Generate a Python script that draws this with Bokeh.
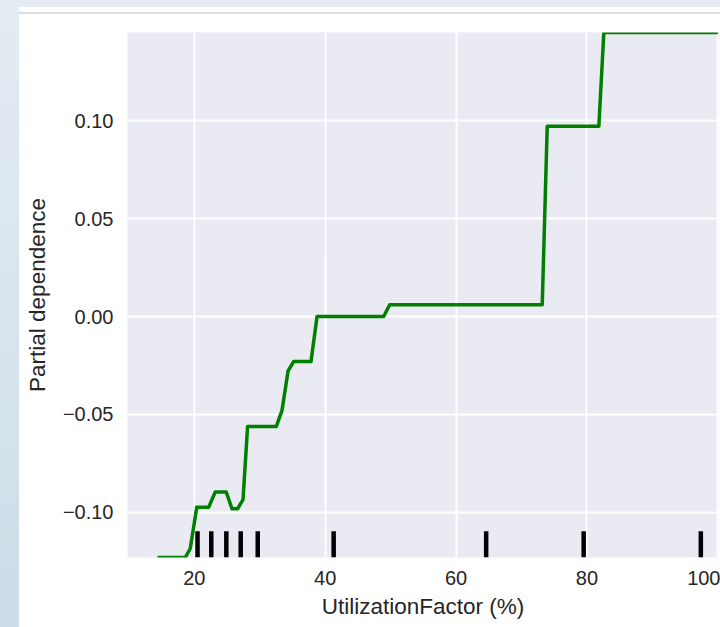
from bokeh.plotting import figure
from bokeh.models import Range1d, FixedTicker, Div
from bokeh.layouts import row, column
from bokeh.embed import file_html
from bokeh.resources import INLINE

# ---- data ----
util_factor = [14.39, 18.62, 19.39, 20.38, 22.19, 23.21, 24.89, 25.76, 26.62,
               27.45, 28.15, 32.54, 33.41, 34.33, 35.18, 37.84, 38.76, 48.94,
               49.86, 73.17, 73.93, 81.82, 82.58, 100.0]
partial_dep = [-0.1230, -0.1230, -0.1184, -0.0974, -0.0974, -0.0896, -0.0896,
               -0.0981, -0.0981, -0.0935, -0.0561, -0.0561, -0.0479, -0.0278,
               -0.0230, -0.0230, 0.0000, 0.0000, 0.0060, 0.0060, 0.0972,
               0.0972, 0.1450, 0.1450]
deciles = [20.5, 22.6, 24.9, 27.1, 29.7, 41.3, 64.6, 79.5, 97.4]
x_ticks = [20, 40, 60, 80, 100]
x_tick_labels = ["20", "40", "60", "80", "100"]
y_ticks = [-0.10, -0.05, 0.00, 0.05, 0.10]
y_tick_labels = ["\u22120.10", "\u22120.05", "0.00", "0.05", "0.10"]
x_label = "UtilizationFactor (%)"
y_label = "Partial dependence"

FONT = "Liberation Sans"
TXT = "#262626"

y_min, y_max = min(partial_dep), max(partial_dep)

p = figure(width=701, height=613, output_backend="svg", toolbar_location=None,
           x_range=Range1d(9.8, 100.1), y_range=Range1d(y_min, y_max),
           min_border_left=108, min_border_right=2, min_border_top=18,
           min_border_bottom=70)
p.background_fill_color = "#EAEAF2"
p.border_fill_color = "white"
p.outline_line_color = None

for g in (p.xgrid, p.ygrid):
    g.grid_line_color = "white"
    g.grid_line_width = 2
p.xaxis.ticker = FixedTicker(ticks=x_ticks)
p.yaxis.ticker = FixedTicker(ticks=y_ticks)
p.xaxis.major_label_overrides = {t: l for t, l in zip(x_ticks, x_tick_labels)}
p.yaxis.major_label_overrides = {t: l for t, l in zip(y_ticks, y_tick_labels)}

for ax in (p.xaxis, p.yaxis):
    ax.axis_line_color = None
    ax.major_tick_line_color = None
    ax.minor_tick_line_color = None
    ax.major_tick_out = 0
    ax.major_tick_in = 0
    ax.major_label_text_font = FONT
    ax.major_label_text_font_size = "20px"
    ax.major_label_text_color = TXT
    ax.axis_label_text_font = FONT
    ax.axis_label_text_font_size = "22.5px"
    ax.axis_label_text_font_style = "normal"
    ax.axis_label_text_color = TXT
p.xaxis.axis_label = x_label
p.yaxis.axis_label = y_label
p.xaxis.major_label_standoff = 13
p.yaxis.major_label_standoff = 14
p.xaxis.axis_label_standoff = 6
p.yaxis.axis_label_standoff = 10

p.line(util_factor, partial_dep, line_color="green", line_width=3.5,
       line_join="round")

rug_top = y_min + 0.05 * (y_max - y_min)
p.segment(x0=deciles, y0=[y_min] * len(deciles), x1=deciles,
          y1=[rug_top] * len(deciles), line_color="black", line_width=4.5,
          line_cap="butt")

left_strip = Div(text="", width=19, height=627, margin=0,
                 styles={"background": "linear-gradient(#E4EBF3, #CCDDE7)"})
top_strip = Div(text="", width=701, height=7, margin=0,
                styles={"background": "#E4EBF3"})
white_gap = Div(text="", width=701, height=5, margin=0,
                styles={"background": "white"})
gray_line = Div(text="", width=701, height=2, margin=0,
                styles={"background": "#DDDDDD"})

layout = row(left_strip, column(top_strip, white_gap, gray_line, p, spacing=0),
             spacing=0)

open("out.html", "w").write(file_html(layout, INLINE))
